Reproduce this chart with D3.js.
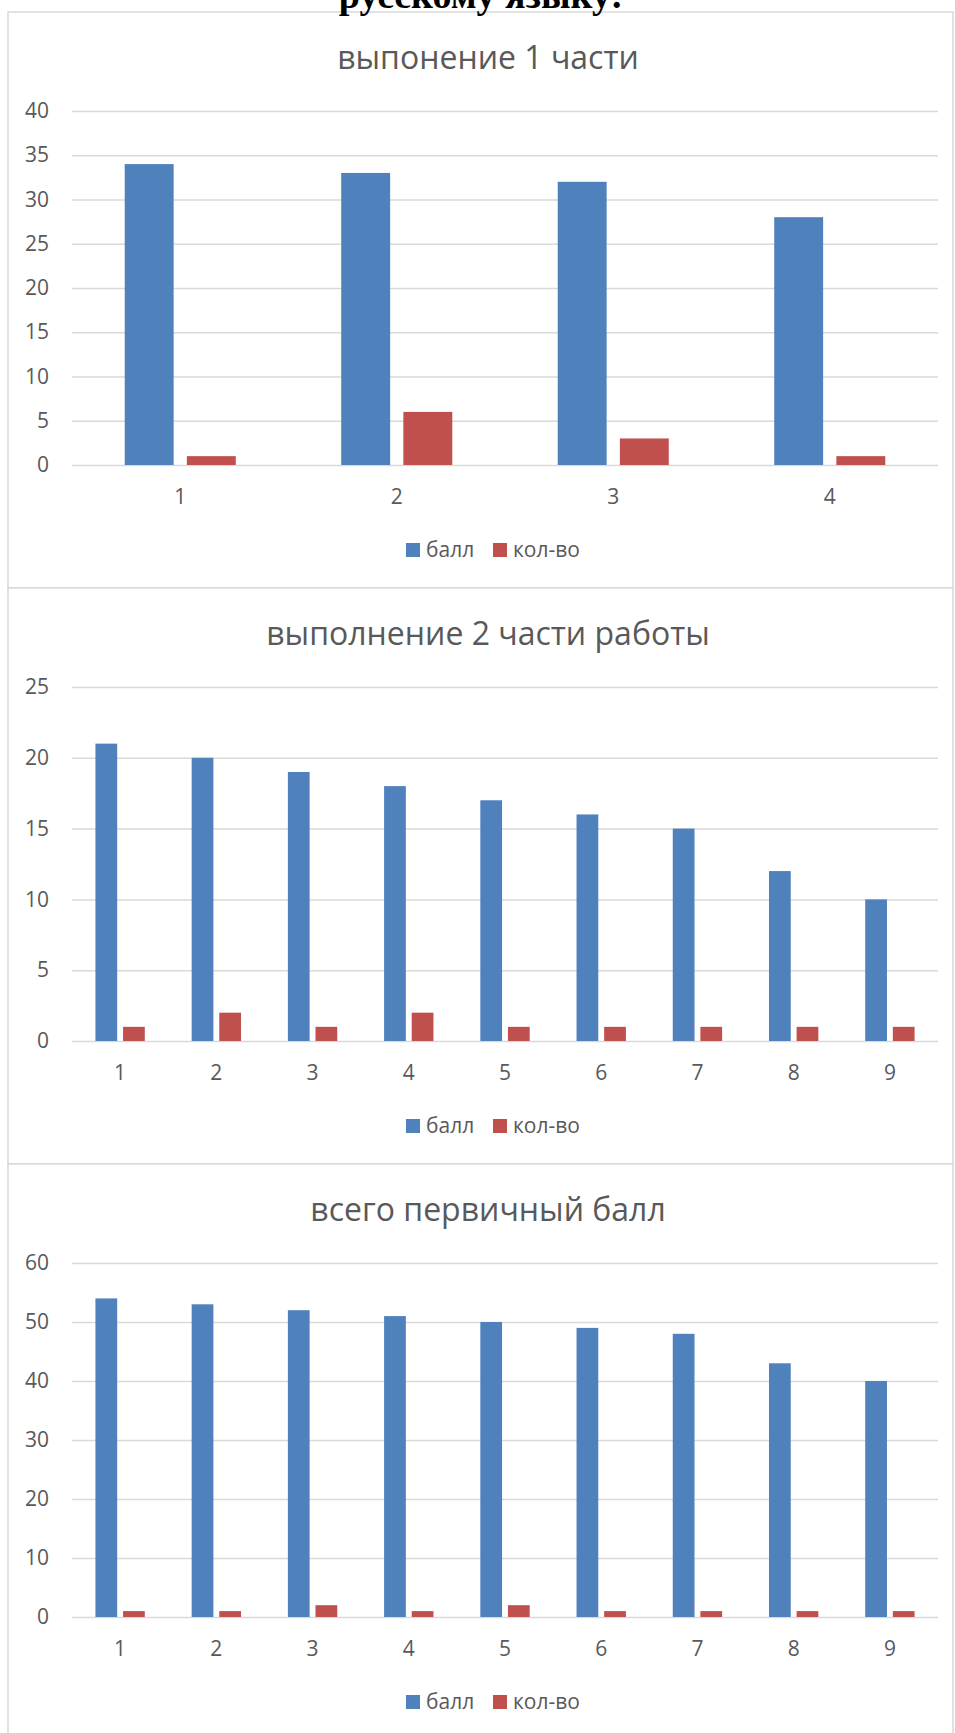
<!DOCTYPE html>
<html>
<head>
<meta charset="utf-8">
<script src="https://cdn.jsdelivr.net/npm/d3@7"></script>
<style>
  body { margin: 0; background: #fff; }
  svg { display: block; }
  .tick text { font-family: "Open Sans", sans-serif; font-size: 21px; fill: #595959; }
</style>
</head>
<body>
<div id="chart-area"></div>
<script>
// Data
var series = ["балл", "кол-во"];
var colors = ["#4f81bd", "#c0504d"];

var titles = ["выпонение 1 части", "выполнение 2 части работы", "всего первичный балл"];

var cats1 = ["1", "2", "3", "4"];
var ball1 = [34, 33, 32, 28];
var kol1 = [1, 6, 3, 1];
var ticks1 = [0, 5, 10, 15, 20, 25, 30, 35, 40];

var cats2 = ["1", "2", "3", "4", "5", "6", "7", "8", "9"];
var ball2 = [21, 20, 19, 18, 17, 16, 15, 12, 10];
var kol2 = [1, 2, 1, 2, 1, 1, 1, 1, 1];
var ticks2 = [0, 5, 10, 15, 20, 25];

var cats3 = ["1", "2", "3", "4", "5", "6", "7", "8", "9"];
var ball3 = [54, 53, 52, 51, 50, 49, 48, 43, 40];
var kol3 = [1, 1, 2, 1, 2, 1, 1, 1, 1];
var ticks3 = [0, 10, 20, 30, 40, 50, 60];

var charts = [
	{ title: titles[0], cats: cats1, values: [ball1, kol1], ticks: ticks1 },
	{ title: titles[1], cats: cats2, values: [ball2, kol2], ticks: ticks2 },
	{ title: titles[2], cats: cats3, values: [ball3, kol3], ticks: ticks3 }
];

var W = 955, H = 1733;
var chartH = 576, chartTop = 12, chartLeft = 8, chartRight = 953;
var plotLeft = 72, plotRight = 938;
var plotTop = 99, plotBottom = 453; // relative to chart top

var svg = d3.select("#chart-area")
	.append("svg")
		.attr("width", W)
		.attr("height", H);

charts.forEach((c, i) => {
	var top = chartTop + i * chartH;
	var g = svg.append("g")
		.attr("transform", `translate(0,${top})`);

	g.append("rect")
		.attr("x", chartLeft)
		.attr("y", 0)
		.attr("width", chartRight - chartLeft)
		.attr("height", chartH)
		.attr("fill", "#fff")
		.attr("stroke", "#d9d9d9")
		.attr("stroke-width", 1.5);

	g.append("text")
		.attr("x", 488)
		.attr("y", 57)
		.attr("text-anchor", "middle")
		.attr("font-family", "Open Sans, sans-serif")
		.attr("font-size", 32)
		.attr("fill", "#595959")
		.text(c.title);

	var x0 = d3.scaleBand()
		.domain(c.cats)
		.range([plotLeft, plotRight])
		.paddingInner(0.487)
		.paddingOuter(0.2435);

	var x1 = d3.scaleBand()
		.domain(series)
		.range([0, x0.bandwidth()])
		.paddingInner(0.2126);

	var y = d3.scaleLinear()
		.domain([0, d3.max(c.ticks)])
		.range([plotBottom, plotTop]);

	// gridlines + y labels
	var yAxis = g.append("g")
		.attr("transform", `translate(${plotLeft},0)`)
		.call(d3.axisLeft(y)
			.tickValues(c.ticks)
			.tickSize(-(plotRight - plotLeft))
			.tickPadding(23));
	yAxis.select(".domain").remove();
	yAxis.selectAll(".tick line")
		.attr("stroke", "#d9d9d9")
		.attr("stroke-width", 1.5);

	// bars
	var rows = c.cats.map((cat, k) => ({ cat: cat, vals: series.map((s, j) => ({ s: s, v: c.values[j][k], j: j })) }));

	g.selectAll(".group")
		.data(rows)
		.enter()
		.append("g")
			.attr("transform", (d) => `translate(${x0(d.cat)},0)`)
		.selectAll("rect")
		.data((d) => d.vals)
		.enter()
		.append("rect")
			.attr("x", (d) => x1(d.s))
			.attr("y", (d) => y(d.v))
			.attr("width", x1.bandwidth())
			.attr("height", (d) => plotBottom - y(d.v))
			.attr("fill", (d) => colors[d.j]);

	// x labels
	var xAxis = g.append("g")
		.attr("transform", `translate(0,${plotBottom})`)
		.call(d3.axisBottom(x0).tickSize(0).tickPadding(24));
	xAxis.select(".domain").remove();

	// legend
	var legend = g.append("g")
		.attr("transform", `translate(0,${plotBottom + 92})`);
	var legX = [406, 493];
	series.forEach((s, j) => {
		legend.append("rect")
			.attr("x", legX[j])
			.attr("y", -14)
			.attr("width", 14)
			.attr("height", 14)
			.attr("fill", colors[j]);
		legend.append("text")
			.attr("x", legX[j] + 20)
			.attr("y", 0)
			.attr("font-family", "Open Sans, sans-serif")
			.attr("font-size", 21)
			.attr("fill", "#595959")
			.text(s);
	});
});

// heading of the document, cut at the top of the page
svg.append("text")
	.attr("x", 481)
	.attr("y", 8)
	.attr("text-anchor", "middle")
	.attr("font-family", "Liberation Serif, Times New Roman, serif")
	.attr("font-weight", "bold")
	.attr("font-size", 38)
	.attr("fill", "#000")
	.text("русскому языку:");
</script>
</body>
</html>
